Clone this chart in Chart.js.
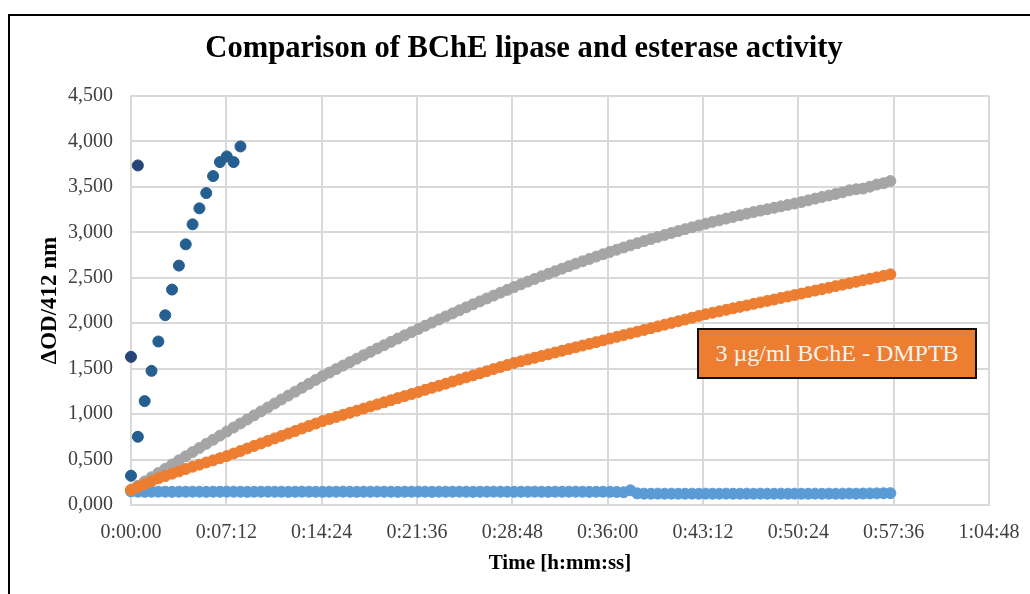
<!DOCTYPE html>
<html>
<head>
<meta charset="utf-8">
<script src="https://cdn.jsdelivr.net/npm/chart.js@4.4.1/dist/chart.umd.min.js"></script>
<style>
  html, body { margin: 0; padding: 0; background: #fff; overflow: hidden; }
  #frame {
    position: absolute; left: 8px; top: 14px; width: 1100px; height: 700px;
    border-left: 2px solid #000; border-top: 2px solid #000;
  }
  #wrap { position: absolute; left: 0; top: 0; width: 1030px; height: 594px; }
  #note {
    position: absolute; left: 697px; top: 328px; width: 276px; height: 47px;
    background: #ED7D31; border: 2px solid #111;
    color: #fbf4ee; font: 24px "Liberation Serif", "Times New Roman", serif;
    display: flex; align-items: center; justify-content: center;
  }
</style>
</head>
<body>
<div id="frame"></div>
<div id="wrap"><canvas id="chart" width="1030" height="594"></canvas></div>
<div id="note">3 µg/ml BChE - DMPTB</div>
<script>
// Readout times in seconds (one read every 31 s)
const longTimes = [
  0, 31, 62, 93, 124, 155, 186, 217, 248, 279, 310, 341, 372, 403, 434, 465,
  496, 527, 558, 589, 620, 651, 682, 713, 744, 775, 806, 837, 868, 899, 930, 961,
  992, 1023, 1054, 1085, 1116, 1147, 1178, 1209, 1240, 1271, 1302, 1333, 1364, 1395, 1426, 1457,
  1488, 1519, 1550, 1581, 1612, 1643, 1674, 1705, 1736, 1767, 1798, 1829, 1860, 1891, 1922, 1953,
  1984, 2015, 2046, 2077, 2108, 2139, 2170, 2201, 2232, 2263, 2294, 2325, 2356, 2387, 2418, 2449,
  2480, 2511, 2542, 2573, 2604, 2635, 2666, 2697, 2728, 2759, 2790, 2821, 2852, 2883, 2914, 2945,
  2976, 3007, 3038, 3069, 3100, 3131, 3162, 3193, 3224, 3255, 3286, 3317, 3348, 3379, 3410, 3441,
];
const shortTimes = [0, 31, 62, 93, 124, 155, 186, 217, 248, 279, 310, 341, 372, 403, 434, 465, 496];
const firstTimes = [0, 31];

// ΔOD at 412 nm
const firstReads = [1.630, 3.736];
const fastRun = [
  0.322, 0.751, 1.143, 1.476, 1.799, 2.088, 2.370, 2.634, 2.868, 3.088,
  3.264, 3.432, 3.619, 3.773, 3.835, 3.773, 3.945,
];
const greyRun = [
  0.165, 0.212, 0.259, 0.306, 0.352, 0.398, 0.445, 0.491, 0.536, 0.582,
  0.628, 0.673, 0.718, 0.763, 0.808, 0.853, 0.897, 0.941, 0.986, 1.030,
  1.073, 1.117, 1.161, 1.204, 1.247, 1.290, 1.333, 1.376, 1.418, 1.457,
  1.496, 1.534, 1.572, 1.610, 1.648, 1.685, 1.722, 1.758, 1.795, 1.831,
  1.867, 1.902, 1.937, 1.972, 2.007, 2.041, 2.075, 2.108, 2.142, 2.175,
  2.208, 2.240, 2.272, 2.304, 2.336, 2.367, 2.398, 2.428, 2.458, 2.487,
  2.516, 2.544, 2.572, 2.600, 2.628, 2.655, 2.681, 2.707, 2.733, 2.759,
  2.784, 2.809, 2.833, 2.857, 2.880, 2.904, 2.926, 2.949, 2.971, 2.993,
  3.014, 3.035, 3.055, 3.076, 3.095, 3.114, 3.132, 3.151, 3.169, 3.187,
  3.205, 3.223, 3.239, 3.254, 3.270, 3.286, 3.302, 3.317, 3.333, 3.352,
  3.371, 3.389, 3.405, 3.422, 3.440, 3.462, 3.474, 3.481, 3.502, 3.526,
  3.540, 3.564,
];
const dmptbRun = [
  0.165, 0.197, 0.229, 0.261, 0.293, 0.319, 0.345, 0.370, 0.396, 0.421,
  0.444, 0.468, 0.491, 0.515, 0.538, 0.566, 0.594, 0.622, 0.650, 0.678,
  0.705, 0.733, 0.760, 0.787, 0.814, 0.842, 0.869, 0.896, 0.923, 0.946,
  0.969, 0.992, 1.015, 1.038, 1.061, 1.084, 1.107, 1.130, 1.153, 1.176,
  1.198, 1.221, 1.244, 1.267, 1.290, 1.312, 1.335, 1.358, 1.381, 1.404,
  1.426, 1.449, 1.472, 1.495, 1.518, 1.540, 1.563, 1.582, 1.601, 1.620,
  1.639, 1.658, 1.678, 1.697, 1.716, 1.735, 1.754, 1.773, 1.792, 1.811,
  1.831, 1.850, 1.869, 1.888, 1.907, 1.926, 1.945, 1.965, 1.984, 2.003,
  2.022, 2.041, 2.060, 2.080, 2.099, 2.115, 2.131, 2.148, 2.164, 2.180,
  2.196, 2.213, 2.229, 2.245, 2.261, 2.278, 2.294, 2.310, 2.326, 2.343,
  2.359, 2.375, 2.391, 2.408, 2.424, 2.440, 2.456, 2.473, 2.489, 2.505,
  2.521, 2.538,
];
const blankRun = [
  0.150, 0.146, 0.145, 0.146, 0.147, 0.146, 0.145, 0.146, 0.146, 0.147,
  0.146, 0.145, 0.146, 0.146, 0.147, 0.146, 0.146, 0.145, 0.146, 0.146,
  0.147, 0.146, 0.146, 0.145, 0.146, 0.147, 0.146, 0.146, 0.145, 0.146,
  0.146, 0.147, 0.146, 0.145, 0.146, 0.146, 0.147, 0.146, 0.146, 0.145,
  0.146, 0.146, 0.147, 0.146, 0.145, 0.146, 0.146, 0.146, 0.147, 0.146,
  0.145, 0.146, 0.146, 0.147, 0.146, 0.146, 0.145, 0.146, 0.146, 0.147,
  0.146, 0.145, 0.146, 0.146, 0.146, 0.147, 0.146, 0.145, 0.146, 0.146,
  0.145, 0.144, 0.140, 0.162, 0.128, 0.125, 0.124, 0.125, 0.124, 0.125,
  0.124, 0.124, 0.125, 0.124, 0.125, 0.124, 0.124, 0.125, 0.124, 0.124,
  0.125, 0.124, 0.125, 0.124, 0.124, 0.125, 0.124, 0.125, 0.124, 0.124,
  0.125, 0.124, 0.125, 0.124, 0.125, 0.126, 0.125, 0.126, 0.127, 0.128,
  0.129, 0.130,
];

// Axis ticks: every 0:07:12 on x, every 0.5 on y
const xTickStep = 432, xMax = 3888;
const yTickStep = 0.5, yMax = 4.5;

const chartTitle = "Comparison of BChE lipase and esterase activity";
const serif = "'Liberation Serif', 'Times New Roman', serif";

function pairs(times, values) {
  return times.map((t, i) => ({ x: t, y: values[i] }));
}

function hms(sec) {
  const h = Math.floor(sec / 3600);
  const m = Math.floor((sec % 3600) / 60);
  const s = Math.round(sec % 60);
  return `${h}:${String(m).padStart(2, "0")}:${String(s).padStart(2, "0")}`;
}

function dots(data, color) {
  return {
    data,
    backgroundColor: color,
    borderColor: color,
    pointRadius: 5.5,
    pointBorderWidth: 1,
    showLine: false,
    clip: false,
  };
}

// The heading sits centred over the whole frame, not just the plot,
// so it is painted here instead of through plugins.title.
const headingPlugin = {
  id: "heading",
  afterDraw(chart) {
    const { ctx } = chart;
    ctx.save();
    ctx.font = `bold 30.6px ${serif}`;
    ctx.fillStyle = "#000";
    ctx.textAlign = "center";
    ctx.textBaseline = "middle";
    ctx.fillText(chartTitle, 524, 49);
    ctx.restore();
  },
};

new Chart(document.getElementById("chart"), {
  type: "scatter",
  data: {
    datasets: [
      dots(pairs(firstTimes, firstReads), "#264478"),
      dots(pairs(shortTimes, fastRun), "#255E91"),
      dots(pairs(longTimes, dmptbRun), "#ED7D31"),
      dots(pairs(longTimes, greyRun), "#A5A5A5"),
      dots(pairs(longTimes, blankRun), "#5B9BD5"),
    ],
  },
  plugins: [headingPlugin],
  options: {
    responsive: false,
    animation: false,
    layout: { padding: { left: 8, right: 41, top: 96, bottom: 0 } },
    scales: {
      x: {
        type: "linear", min: 0, max: xMax,
        // end labels may hang past the plot; keep the plot width fixed
        afterFit: (s) => { s.height = 89; s.paddingLeft = 0; s.paddingRight = 0; },
        grid: { color: "#d9d9d9", lineWidth: 2, drawTicks: false },
        border: { color: "#d9d9d9", width: 2 },
        ticks: {
          stepSize: xTickStep, padding: 16, color: "#404040",
          font: { family: serif, size: 20 },
          callback: (v) => hms(v),
        },
        title: {
          display: true, text: "Time [h:mm:ss]", color: "#000",
          font: { family: serif, size: 21, weight: "bold" },
          padding: { top: 0, bottom: 18 },
        },
      },
      y: {
        min: 0, max: yMax,
        afterFit: (s) => { s.width = 123; },
        grid: { color: "#d9d9d9", lineWidth: 2, drawTicks: false },
        border: { color: "#d9d9d9", width: 2 },
        ticks: {
          stepSize: yTickStep, padding: 18, color: "#404040",
          font: { family: serif, size: 20 },
          callback: (v) => v.toFixed(3).replace(".", ","),
        },
        title: {
          display: true, text: "ΔOD/412 nm", color: "#000",
          font: { family: serif, size: 23, weight: "bold" },
          padding: { top: 28, bottom: 0 },
        },
      },
    },
    plugins: {
      legend: { display: false },
      tooltip: { enabled: false },
      title: { display: false },
    },
  },
});
</script>
</body>
</html>
